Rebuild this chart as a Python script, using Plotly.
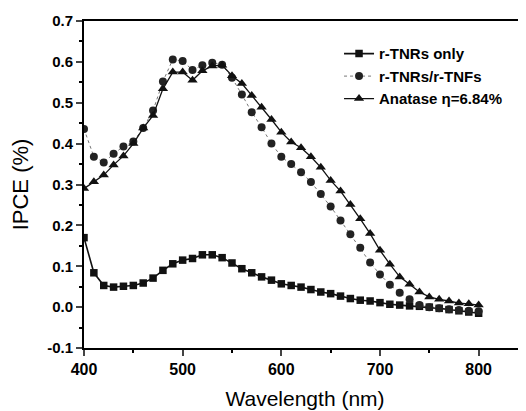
import plotly.graph_objects as go

wavelength = list(range(400, 801, 10))

r_tnrs_only = [0.170, 0.084, 0.053, 0.049, 0.051, 0.053, 0.059, 0.071, 0.090, 0.106,
               0.115, 0.119, 0.128, 0.128, 0.121, 0.108, 0.094, 0.084, 0.074, 0.066,
               0.057, 0.053, 0.049, 0.043, 0.037, 0.033, 0.027, 0.021, 0.017, 0.015,
               0.011, 0.007, 0.005, 0.003, 0.002, 0.000, -0.003, -0.006, -0.009, -0.012,
               -0.015]

r_tnrs_tnfs = [0.436, 0.368, 0.354, 0.375, 0.393, 0.405, 0.438, 0.481, 0.552, 0.606,
               0.602, 0.580, 0.592, 0.598, 0.593, 0.561, 0.520, 0.477, 0.440, 0.400,
               0.368, 0.350, 0.330, 0.306, 0.277, 0.246, 0.212, 0.178, 0.145, 0.109,
               0.080, 0.055, 0.035, 0.019, 0.005, 0.000, -0.003, -0.005, -0.007, -0.009,
               -0.010]

anatase = [0.290, 0.307, 0.323, 0.348, 0.370, 0.400, 0.438, 0.469, 0.534, 0.575,
           0.575, 0.555, 0.578, 0.590, 0.592, 0.566, 0.547, 0.518, 0.489, 0.459,
           0.428, 0.404, 0.390, 0.368, 0.342, 0.310, 0.284, 0.251, 0.216, 0.180,
           0.139, 0.105, 0.074, 0.056, 0.037, 0.025, 0.019, 0.015, 0.010, 0.008,
           0.005]

series_names = ["r-TNRs only", "r-TNRs/r-TNFs", "Anatase \u03b7=6.84%"]

y_ticks = [-0.1, 0.0, 0.1, 0.2, 0.3, 0.4, 0.5, 0.6, 0.7]
x_ticks = [400, 500, 600, 700, 800]

fig = go.Figure()
fig.add_trace(go.Scatter(
    x=wavelength, y=r_tnrs_only, name=series_names[0], mode="lines+markers",
    line=dict(color="#111111", width=1.6),
    marker=dict(symbol="square", size=7.5, color="#111111")))
fig.add_trace(go.Scatter(
    x=wavelength, y=r_tnrs_tnfs, name=series_names[1], mode="lines+markers",
    line=dict(color="#777777", width=1, dash="dot"),
    marker=dict(symbol="circle", size=8, color="#222222")))
fig.add_trace(go.Scatter(
    x=wavelength, y=anatase, name=series_names[2], mode="lines+markers",
    line=dict(color="#111111", width=1.3),
    marker=dict(symbol="triangle-up", size=9, color="#111111")))

font_fam = "Liberation Sans, Arial, sans-serif"

fig.update_layout(
    width=526, height=411,
    margin=dict(l=76, r=8, t=13, b=71, autoexpand=False),
    paper_bgcolor="white", plot_bgcolor="white",
    font=dict(family=font_fam, color="black"),
    showlegend=True,
    legend=dict(x=0.577, y=0.95, xanchor="left", yanchor="top",
                bgcolor="rgba(0,0,0,0)", font=dict(size=15, family=font_fam, weight="bold"),
                tracegroupgap=0, itemwidth=30),
    xaxis=dict(range=[400, 848], tickvals=x_ticks, ticks="outside", ticklen=6,
               tickwidth=1.5, showline=True, linecolor="black", linewidth=2,
               mirror=True, showgrid=False, zeroline=False, automargin=False,
               tickfont=dict(size=16, family=font_fam, weight="bold"),
               title=dict(text="Wavelength (nm)", font=dict(size=21, family=font_fam), standoff=14),
               minor=dict(ticks="outside", ticklen=3, dtick=50, tickcolor="black", showgrid=False)),
    yaxis=dict(range=[-0.1, 0.7], tickvals=y_ticks, ticktext=[f"{v:.1f}" for v in y_ticks],
               ticks="outside", ticklen=6, tickwidth=1.5, showline=True, linecolor="black",
               linewidth=2, showgrid=False, zeroline=False, automargin=False,
               tickfont=dict(size=15, family=font_fam, weight="bold"),
               title=dict(text="IPCE (%)", font=dict(size=22, family=font_fam), standoff=14),
               minor=dict(ticks="outside", ticklen=3, dtick=0.05, tickcolor="black", showgrid=False)),
)

fig.write_html("out.html")
